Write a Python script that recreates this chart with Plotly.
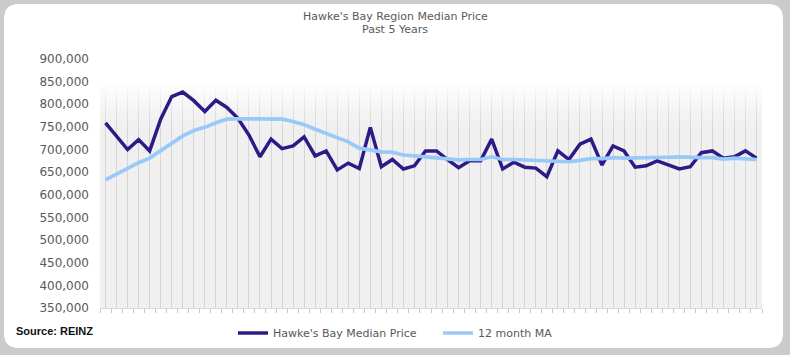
import plotly.graph_objects as go

# ---- data ----
median_price = [759, 730, 700, 722, 697, 767, 817, 827, 808, 784,
                809, 793, 769, 732, 684, 723, 702, 708, 728, 686,
                697, 655, 670, 658, 749, 662, 678, 657, 664, 697,
                697, 678, 660, 675, 675, 723, 657, 672, 661, 659,
                640, 697, 678, 712, 723, 666, 708, 697, 661, 664,
                675, 666, 657, 662, 693, 697, 681, 684, 697, 681]
median_price = [v * 1000 for v in median_price]

ma_12 = [633, 646, 658, 671, 681, 697, 715, 730, 742, 749,
         759, 767, 768, 768, 767, 767, 767, 762, 755, 745,
         736, 727, 717, 703, 699, 695, 694, 688, 686, 684,
         682, 680, 677, 678, 678, 684, 678, 678, 677, 677,
         675, 675, 673, 676, 680, 680, 682, 681, 681, 681,
         681, 683, 684, 682, 682, 682, 679, 681, 679, 678]
ma_12 = [v * 1000 for v in ma_12]

series_names = ["Hawke's Bay Median Price", "12 month MA"]
title_lines = ["Hawke's Bay Region Median Price", "Past 5 Years"]
source_text = "Source: REINZ"
y_ticks = list(range(350000, 900001, 50000))

months = list(range(len(median_price)))

# ---- layout geometry (pixels) ----
W, H = 790, 355
L, R, T, B = 100, 28, 59, 47
pw, ph = W - L - R, H - T - B
y_lo, y_hi = 350000, 900000


def px_x(p):
    return (p - L) / pw


def px_y(p):
    return (H - B - p) / ph


fig = go.Figure()
fig.add_trace(go.Scatter(x=months, y=median_price, mode="lines", name=series_names[0],
                         line=dict(color="#2e1a87", width=3.5)))
fig.add_trace(go.Scatter(x=months, y=ma_12, mode="lines", name=series_names[1],
                         line=dict(color="#99c9f8", width=3.7)))

# card (rounded white panel)
cx0, cx1, cy0, cy1, rad = 4, 783, 4, 348, 15
rx, ry = rad / pw, rad / ph
X0, X1 = px_x(cx0), px_x(cx1)
Yt, Yb = px_y(cy0), px_y(cy1)
card_path = (f"M {X0+rx},{Yt} L {X1-rx},{Yt} Q {X1},{Yt} {X1},{Yt-ry} "
             f"L {X1},{Yb+ry} Q {X1},{Yb} {X1-rx},{Yb} L {X0+rx},{Yb} "
             f"Q {X0},{Yb} {X0},{Yb+ry} L {X0},{Yt-ry} Q {X0},{Yt} {X0+rx},{Yt} Z")
shapes = [dict(type="path", path=card_path, xref="paper", yref="paper",
               fillcolor="white", line=dict(width=0), layer="below"),
          dict(type="rect", xref="paper", yref="paper", x0=0, x1=1, y0=0, y1=1,
               fillcolor="#f0f0f0", line=dict(width=0), layer="below")]

# white fade over the top of the plot area (between grid and lines),
# built from 1-pixel rows so there are no seams
xlo, xhi = -0.5, len(months) - 0.5
row = (y_hi - y_lo) / ph
solid_rows, fade_rows = 22, 50
shapes.append(dict(type="rect", xref="x", yref="y", x0=xlo, x1=xhi,
                   y0=y_hi - solid_rows * row, y1=y_hi,
                   fillcolor="white", opacity=1, line=dict(width=0), layer="between"))
for k in range(fade_rows):
    top = y_hi - (solid_rows + k) * row
    op = (1 - (k + 0.5) / fade_rows) ** 1.4
    shapes.append(dict(type="rect", xref="x", yref="y", x0=xlo, x1=xhi,
                       y0=top - row, y1=top,
                       fillcolor="white", opacity=round(op, 3), line=dict(width=0),
                       layer="between"))

annotations = [
    dict(text=title_lines[0], xref="paper", yref="paper", x=px_x(395), y=px_y(17),
         xanchor="center", yanchor="middle", showarrow=False,
         font=dict(family="DejaVu Sans", size=11, color="#595959")),
    dict(text=title_lines[1], xref="paper", yref="paper", x=px_x(395), y=px_y(29),
         xanchor="center", yanchor="middle", showarrow=False,
         font=dict(family="DejaVu Sans", size=11, color="#595959")),
    dict(text="<b>" + source_text + "</b>", xref="paper", yref="paper", x=px_x(14), y=px_y(331),
         xanchor="left", yanchor="middle", showarrow=False,
         font=dict(family="Liberation Sans", size=11, color="#111111")),
]

fig.update_layout(
    width=W, height=H,
    margin=dict(l=L, r=R, t=T, b=B, autoexpand=False),
    paper_bgcolor="#cbcbce",
    plot_bgcolor="rgba(0,0,0,0)",
    shapes=shapes,
    annotations=annotations,
    showlegend=True,
    legend=dict(orientation="h", x=px_x(233), y=px_y(333), xanchor="left", yanchor="middle",
                font=dict(family="DejaVu Sans", size=11, color="#595959"),
                bgcolor="rgba(0,0,0,0)", entrywidth=160, tracegroupgap=0),
    xaxis=dict(range=[xlo, xhi], tick0=-0.5, dtick=1,
               ticks="outside", ticklen=4, tickcolor="#c8c8c8", showticklabels=False,
               showgrid=False, zeroline=False, showline=True, linecolor="#d9d9d9",
               minor=dict(tick0=0, dtick=1, showgrid=True, gridcolor="#d6d6d6",
                          gridwidth=1, ticks="")),
    yaxis=dict(range=[y_lo, y_hi], tickvals=y_ticks, tickformat=",",
               showgrid=False, zeroline=False, showline=False, ticks="",
               ticklabelstandoff=10,
               tickfont=dict(family="DejaVu Sans", size=12, color="#595959")),
)

fig.write_html("out.html", config={"displayModeBar": False},
               post_script="document.body.style.margin='0';document.body.style.background='#cbcbce';")
